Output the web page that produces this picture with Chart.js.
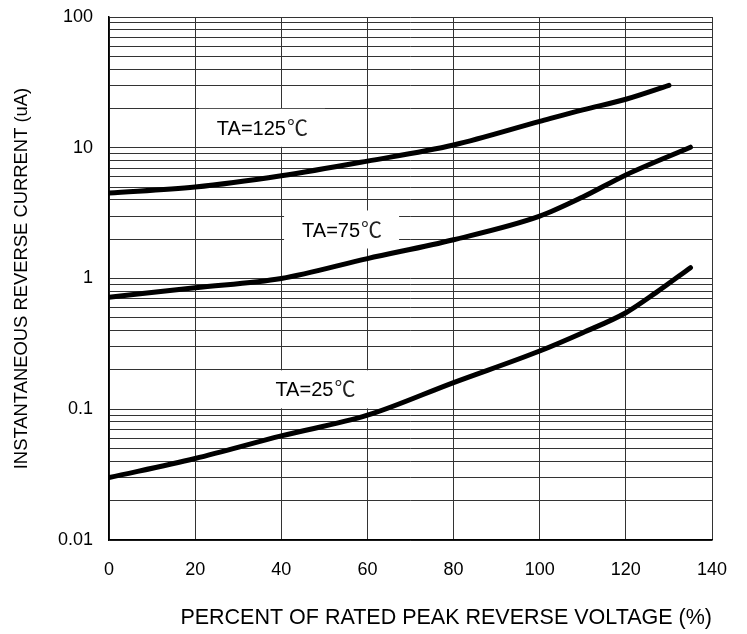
<!DOCTYPE html>
<html>
<head>
<meta charset="utf-8">
<script src="https://cdn.jsdelivr.net/npm/chart.js@4"></script>
<style>
  html, body { margin: 0; padding: 0; background: #fff; }
  #wrap { width: 747px; height: 634px; }
</style>
</head>
<body>
<div id="wrap"><canvas id="chart" width="747" height="634"></canvas></div>
<script>
// percent of rated peak reverse voltage
const xTicks = [0, 20, 40, 60, 80, 100, 120, 140];
const yDecades = [0.01, 0.1, 1, 10, 100];

// reverse current (uA)
const ta125X = [0, 20, 40, 60, 80, 100, 110, 120, 130];
const ta125Y = [4.5, 5.0, 6.1, 7.9, 10.5, 15.9, 19.5, 23.5, 30];

const ta75X = [0, 20, 40, 60, 80, 100, 110, 120, 135];
const ta75Y = [0.72, 0.85, 1.0, 1.42, 1.98, 3.0, 4.2, 6.2, 10.1];

const ta25X = [0, 20, 40, 60, 80, 100, 110, 120, 127, 135];
const ta25Y = [0.03, 0.042, 0.0625, 0.09, 0.16, 0.279, 0.385, 0.547, 0.78, 1.21];

// curve labels: text, x (%), y (uA)
const labelText = ["TA=125", "TA=75", "TA=25"];
const labelX = [35.5, 54, 47.8];
const labelY = [14.2, 2.37, 0.142];

const FONT = "'Liberation Sans', Arial, sans-serif";
const DEG_FONT = "21px 'Noto Sans CJK SC', 'DejaVu Sans', sans-serif";

const toPoints = (xs, ys) => xs.map((x, i) => ({ x: x, y: ys[i] }));

// white boxes behind the curve labels, like the datasheet
const curveLabels = {
  id: "curveLabels",
  beforeDatasetsDraw(chart) {
    const ctx = chart.ctx;
    const xs = chart.scales.x, ys = chart.scales.y;
    ctx.save();
    ctx.textBaseline = "alphabetic";
    ctx.textAlign = "left";
    labelText.forEach((t, i) => {
      const px = xs.getPixelForValue(labelX[i]);
      const py = ys.getPixelForValue(labelY[i]);
      ctx.font = "20px " + FONT;
      const w1 = ctx.measureText(t).width;
      ctx.font = DEG_FONT;
      const w2 = ctx.measureText("\u2103").width;
      const left = px - (w1 + w2) / 2;
      ctx.fillStyle = "#fff";
      ctx.fillRect(left - 18, py - 19, w1 + w2 + 36, 38);
      ctx.fillStyle = "#000";
      ctx.font = "20px " + FONT;
      ctx.fillText(t, left, py + 7);
      ctx.fillStyle = "#222";
      ctx.font = DEG_FONT;
      ctx.fillText("\u2103", left + w1 + 1, py + 7);
    });
    ctx.restore();
  }
};

const lineStyle = {
  borderColor: "#000",
  borderWidth: 5,
  pointRadius: 0,
  fill: false,
  cubicInterpolationMode: "monotone",
  borderCapStyle: "round"
};

new Chart(document.getElementById("chart"), {
  type: "line",
  data: {
    datasets: [
      { label: "TA=125", data: toPoints(ta125X, ta125Y), ...lineStyle },
      { label: "TA=75", data: toPoints(ta75X, ta75Y), ...lineStyle },
      { label: "TA=25", data: toPoints(ta25X, ta25Y), ...lineStyle }
    ]
  },
  options: {
    responsive: false,
    animation: false,
    layout: { padding: { top: 17, right: 35, left: 0, bottom: 0 } },
    plugins: { legend: { display: false }, tooltip: { enabled: false } },
    scales: {
      x: {
        type: "linear",
        min: 0,
        max: 140,
        afterBuildTicks: s => { s.ticks = xTicks.map(v => ({ value: v })); },
        afterFit: s => { s.height = 94; },
        ticks: {
          color: "#000",
          padding: 19,
          font: { size: 18, family: FONT }
        },
        grid: { color: "#333", lineWidth: 1, drawTicks: false },
        border: { color: "#000", width: 1.5 },
        title: {
          display: true,
          align: "end",
          text: "PERCENT OF RATED PEAK REVERSE VOLTAGE (%)",
          color: "#000",
          padding: { top: 0, bottom: 3 },
          font: { size: 21.5, family: FONT }
        }
      },
      y: {
        type: "logarithmic",
        min: 0.01,
        max: 100,
        afterBuildTicks: s => {
          const t = [];
          yDecades.slice(0, -1).forEach(d => {
            for (let m = 1; m < 10; m++) t.push({ value: +(m * d).toPrecision(3) });
          });
          t.push({ value: 100 });
          s.ticks = t;
        },
        afterFit: s => { s.width = 109; s.paddingTop = 0; s.paddingBottom = 0; },
        ticks: {
          color: "#000",
          padding: 16,
          autoSkip: false,
          font: { size: 18, family: FONT },
          callback: v => (yDecades.includes(v) ? String(v) : "")
        },
        grid: { color: "#333", lineWidth: 1, drawTicks: false },
        border: { color: "#000", width: 1.5 },
        title: {
          display: true,
          text: "INSTANTANEOUS REVERSE CURRENT (uA)",
          color: "#000",
          padding: { top: 11, bottom: 0 },
          font: { size: 18.4, family: FONT }
        }
      }
    }
  },
  plugins: [curveLabels]
});
</script>
</body>
</html>
